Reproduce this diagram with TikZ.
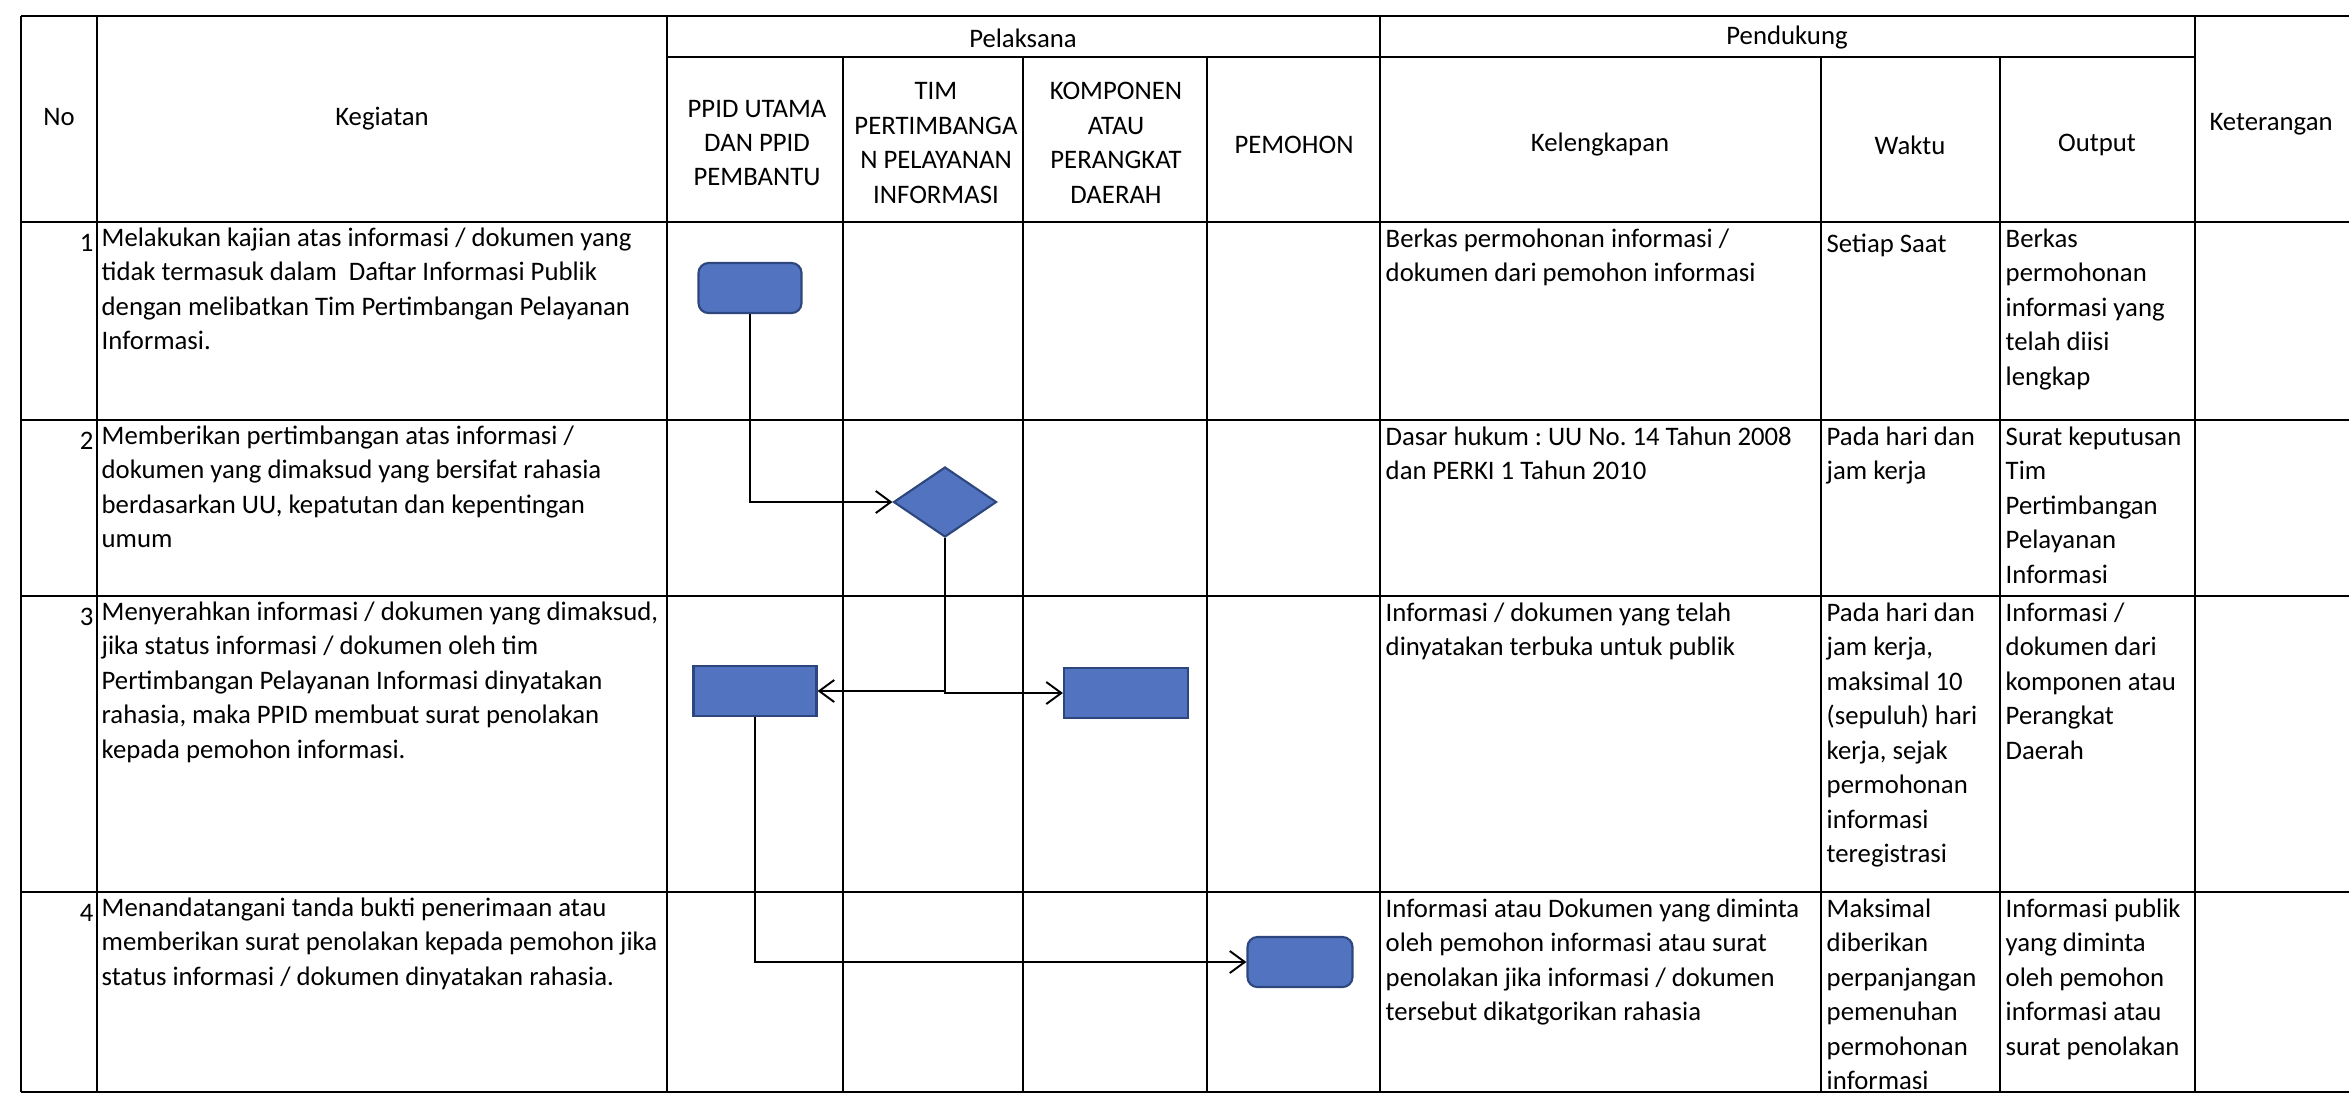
\documentclass[tikz,border=0pt]{standalone}
\usepackage{fontspec}
\setmainfont{Carlito}
\usetikzlibrary{shapes.geometric,arrows.meta}
\definecolor{flowblue}{RGB}{82,116,192}
\definecolor{flowedge}{RGB}{45,70,125}
\newcommand{\tabfont}{\fontsize{7.6}{9.8}\selectfont}
\frenchspacing

\begin{document}
\begin{tikzpicture}[x = 0.01cm, y = -0.01cm,
            grid/.style = {line width = 0.7pt},
            head/.style = {align = center, inner sep = 0pt, font = \tabfont},
            cell/.style = {anchor = north west, align = left, inner sep = 0pt, font = \tabfont, execute at begin node = \strut},
            num/.style = {anchor = north east, inner sep = 0pt, font = \tabfont, execute at begin node = \strut},
            act/.style = {draw = flowedge, fill = flowblue, line width = 0.6pt, minimum width = 1.03cm, minimum height = 0.5cm, inner sep = 0pt},
            decide/.style = {diamond, draw = flowedge, fill = flowblue, line width = 0.6pt, minimum width = 1.03cm, minimum height = 0.7cm, inner sep = 0pt},
            flow/.style = {line width = 0.55pt, -{Straight Barb[length = 1.5mm, width = 2.2mm]}}]
            \useasboundingbox (0,0) rectangle (2349,1099);

            % table rules
            \draw[grid] (21,16) -- (2349,16);
            \draw[grid] (667,57) -- (2195,57);
            \draw[grid] (21,222) -- (2349,222);
            \draw[grid] (21,420) -- (2349,420);
            \draw[grid] (21,596) -- (2349,596);
            \draw[grid] (21,892) -- (2349,892);
            \draw[grid] (21,1092) -- (2349,1092);
            \draw[grid] (21,16) -- (21,1092);
            \draw[grid] (97,16) -- (97,1092);
            \draw[grid] (667,16) -- (667,1092);
            \draw[grid] (843,57) -- (843,1092);
            \draw[grid] (1023,57) -- (1023,1092);
            \draw[grid] (1207,57) -- (1207,1092);
            \draw[grid] (1380,16) -- (1380,1092);
            \draw[grid] (1821,57) -- (1821,1092);
            \draw[grid] (2000,57) -- (2000,1092);
            \draw[grid] (2195,16) -- (2195,1092);

            % header
            \node[head] (hno) at (59,117) {No};
            \node[head] (hkeg) at (382,119) {Kegiatan};
            \node[head] (hpel) at (1023,38) {Pelaksana};
            \node[head] (hpen) at (1787,38) {Pendukung};
            \node[head] (hket) at (2271,124) {Keterangan};
            \node[head] (hppid) at (757,143) {PPID UTAMA\\DAN PPID\\PEMBANTU};
            \node[head] (htim) at (936,143) {TIM\\PERTIMBANGA\\N PELAYANAN\\INFORMASI};
            \node[head] (hkomp) at (1116,143) {KOMPONEN\\ATAU\\PERANGKAT\\DAERAH};
            \node[head] (hpem) at (1294,145) {PEMOHON};
            \node[head] (hkel) at (1600,145) {Kelengkapan};
            \node[head] (hwkt) at (1910,145) {Waktu};
            \node[head] (hout) at (2097,145) {Output};

            % row 1
            \node[num] (n1) at (94,227) {1};
            \node[cell] (keg1) at (101,227) {Melakukan kajian atas informasi / dokumen yang\\tidak termasuk dalam~ Daftar Informasi Publik\\dengan melibatkan Tim Pertimbangan Pelayanan\\Informasi.};
            \node[cell] (kel1) at (1385,228) {Berkas permohonan informasi /\\dokumen dari pemohon informasi};
            \node[cell] (wkt1) at (1826,228) {Setiap Saat};
            \node[cell] (out1) at (2005,228) {Berkas\\permohonan\\informasi yang\\telah diisi\\lengkap};

            % row 2
            \node[num] (n2) at (94,425) {2};
            \node[cell] (keg2) at (101,425) {Memberikan pertimbangan atas informasi /\\dokumen yang dimaksud yang bersifat rahasia\\berdasarkan UU, kepatutan dan kepentingan\\umum};
            \node[cell] (kel2) at (1385,426) {Dasar hukum : UU No. 14 Tahun 2008\\dan PERKI 1 Tahun 2010};
            \node[cell] (wkt2) at (1826,426) {Pada hari dan\\jam kerja};
            \node[cell] (out2) at (2005,426) {Surat keputusan\\Tim\\Pertimbangan\\Pelayanan\\Informasi};

            % row 3
            \node[num] (n3) at (94,601) {3};
            \node[cell] (keg3) at (101,601) {Menyerahkan informasi / dokumen yang dimaksud,\\jika status informasi / dokumen oleh tim\\Pertimbangan Pelayanan Informasi dinyatakan\\rahasia, maka PPID membuat surat penolakan\\kepada pemohon informasi.};
            \node[cell] (kel3) at (1385,602) {Informasi / dokumen yang telah\\dinyatakan terbuka untuk publik};
            \node[cell] (wkt3) at (1826,602) {Pada hari dan\\jam kerja,\\maksimal 10\\(sepuluh) hari\\kerja, sejak\\permohonan\\informasi\\teregistrasi};
            \node[cell] (out3) at (2005,602) {Informasi /\\dokumen dari\\komponen atau\\Perangkat\\Daerah};

            % row 4
            \node[num] (n4) at (94,897) {4};
            \node[cell] (keg4) at (101,897) {Menandatangani tanda bukti penerimaan atau\\memberikan surat penolakan kepada pemohon jika\\status informasi / dokumen dinyatakan rahasia.};
            \node[cell] (kel4) at (1385,898) {Informasi atau Dokumen yang diminta\\oleh pemohon informasi atau surat\\penolakan jika informasi / dokumen\\tersebut dikatgorikan rahasia};
            \node[cell] (wkt4) at (1826,898) {Maksimal\\diberikan\\perpanjangan\\pemenuhan\\permohonan\\informasi};
            \node[cell] (out4) at (2005,898) {Informasi publik\\yang diminta\\oleh pemohon\\informasi atau\\surat penolakan};

            % flow
            \node[act, rounded corners = 0.1cm] (ppid1) at (750,288) {};
            \node[decide] (tim2) at (945,502) {};
            \node[act, minimum width = 1.23cm] (ppid3) at (755,691) {};
            \node[act, minimum width = 1.24cm] (komp3) at (1126,693) {};
            \node[act, rounded corners = 0.1cm, minimum width = 1.05cm] (pem4) at (1300,962) {};

            \draw[flow] (ppid1.south) |- (tim2.west);
            \draw[flow] (tim2.south) |- (ppid3.east);
            \draw[flow] (tim2.south) |- (komp3.west);
            \draw[flow] (ppid3.south) |- (pem4.west);
        \end{tikzpicture}
\end{document}
